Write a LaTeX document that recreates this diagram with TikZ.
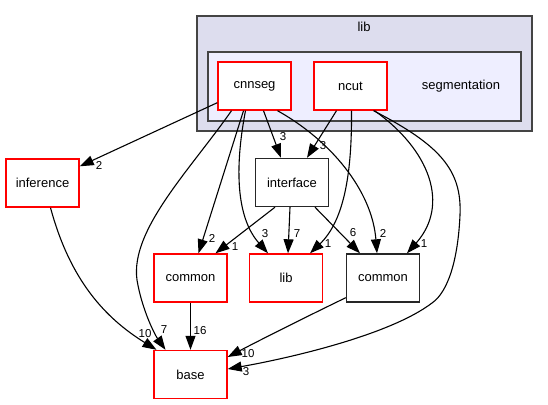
\documentclass[tikz,border=0pt]{standalone}
\usepackage{fontspec}
\setmainfont{Liberation Sans}
\usetikzlibrary{arrows.meta}
\definecolor{outerfill}{HTML}{DDDDEE}
\definecolor{innerfill}{HTML}{EEEEFF}
\definecolor{clusterline}{HTML}{444444}
\tikzset{
  clusterbox/.style={draw=clusterline, line width=1.4pt},
  dirbox/.style={draw, line width=1.4pt, fill=white, minimum width=73pt, minimum height=48pt, inner sep=0pt, font=\fontsize{13}{15}\selectfont},
  reddir/.style={dirbox, draw=red},
  blackdir/.style={dirbox, draw=black!85},
  dep/.style={line width=1.1pt, -{Triangle[length=14pt,width=10pt]}},
  lbl/.style={inner sep=0pt, font=\fontsize{11.5}{13}\selectfont}
}
\begin{document}
\begin{tikzpicture}[x=1pt,y=-1pt]
\useasboundingbox (0,0) rectangle (548,404);
% clusters
\draw[clusterbox, fill=outerfill] (197,16) rectangle (532,131);
\node[font=\fontsize{13}{15}\selectfont] (libcl) at (364,27) {lib};
\draw[clusterbox, fill=innerfill] (208,52) rectangle (521,121);
\node[font=\fontsize{13}{15}\selectfont] (seglbl) at (461,86) {segmentation};
% nodes
\node[reddir] (cnnseg) at (254.5,86) {cnnseg};
\node[reddir] (ncut) at (350.5,86) {ncut};
\node[blackdir] (interface) at (292,182.5) {interface};
\node[reddir] (inference) at (42.5,183) {inference};
\node[reddir] (commonr) at (190.5,278) {common};
\node[reddir] (libn) at (286,278) {lib};
\node[blackdir] (commonb) at (383,278) {common};
\node[reddir] (base) at (190.5,374.5) {base};
% edges
\draw[dep] ([yshift=8pt]cnnseg.south west) -- ([yshift=-8pt]inference.north east);
\draw[dep] ([xshift=-23pt]cnnseg.south) .. controls (190,170) and (130,230) .. (137,280) .. controls (142,310) and (155,335) .. ([xshift=-25pt]base.north);
\draw[dep] ([xshift=-11pt]cnnseg.south) -- ([xshift=8pt]commonr.north);
\draw[dep] ([xshift=-9pt]cnnseg.south) .. controls (236,160) and (234,215) .. ([xshift=-18pt]libn.north);
\draw[dep] ([xshift=9pt]cnnseg.south) -- ([xshift=-11pt]interface.north);
\draw[dep] ([xshift=23pt]cnnseg.south) .. controls (330,140) and (372,190) .. ([xshift=-6pt]commonb.north);
\draw[dep] ([xshift=-14pt]ncut.south) -- ([xshift=15pt]interface.north);
\draw[dep] ([xshift=1pt]ncut.south) .. controls (352,170) and (345,220) .. ([xshift=24pt]libn.north);
\draw[dep] ([xshift=24pt]ncut.south) .. controls (430,150) and (450,205) .. ([xshift=24pt]commonb.north);
\draw[dep] ([xshift=23pt]ncut.south) .. controls (440,145) and (462,170) .. (460,215) .. controls (458,260) and (448,292) .. (432,303) .. controls (390,335) and (290,358) .. ([yshift=5.5pt]base.east);
\draw[dep] ([xshift=-17pt]interface.south) -- ([xshift=25pt]commonr.north);
\draw[dep] ([xshift=-2pt]interface.south) -- ([xshift=2pt]libn.north);
\draw[dep] ([xshift=23pt]interface.south) -- ([xshift=-23pt]commonb.north);
\draw[dep] ([xshift=8pt]inference.south) .. controls (70,280) and (105,318) .. ([xshift=-34pt]base.north);
\draw[dep] (commonr) -- (base);
\draw[dep] ([yshift=5pt]commonb.south west) .. controls (310,315) and (262,339) .. ([yshift=17.5pt]base.east);
% edge labels
\node[lbl] (l1) at (99,165) {2};
\node[lbl] (l2) at (164,330) {7};
\node[lbl] (l3) at (145,334) {10};
\node[lbl] (l4) at (200,331) {16};
\node[lbl] (l5) at (212,238) {2};
\node[lbl] (l6) at (235,247) {1};
\node[lbl] (l7) at (265,234) {3};
\node[lbl] (l8) at (297,234) {7};
\node[lbl] (l9) at (328,244) {1};
\node[lbl] (l10) at (353,233) {6};
\node[lbl] (l11) at (383,233) {2};
\node[lbl] (l12) at (424,244) {1};
\node[lbl] (l13) at (248,354) {10};
\node[lbl] (l14) at (246,372) {3};
\node[lbl] (l15) at (283,137) {3};
\node[lbl] (l16) at (323,146) {3};
\end{tikzpicture}
\end{document}
